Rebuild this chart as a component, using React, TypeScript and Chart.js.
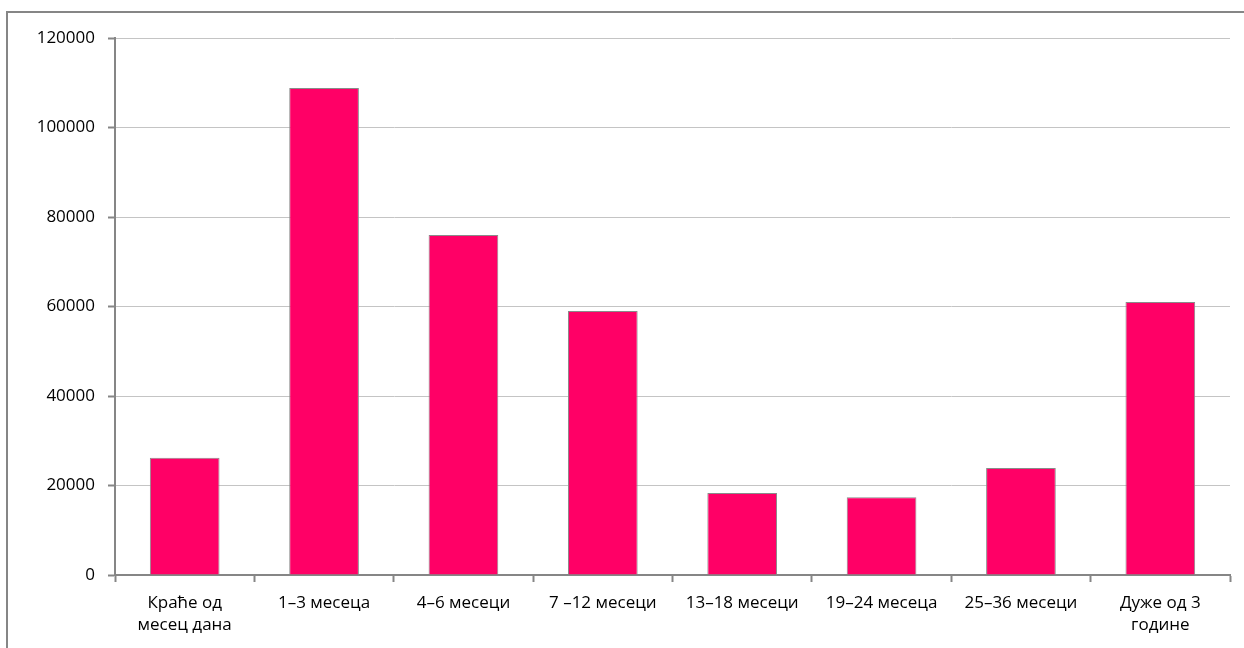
import React, { useEffect, useRef } from "react";
import { Chart, registerables } from "chart.js";

Chart.register(...registerables);

const categories: (string | string[])[] = [
  ["Краће од", "месец дана"],
  "1–3 месеца",
  "4–6 месеци",
  "7 –12 месеци",
  "13–18 месеци",
  "19–24 месеца",
  "25–36 месеци",
  ["Дуже од 3", "године"],
];
const values = [26200, 108800, 76000, 59000, 18300, 17400, 23900, 61000];
const yTicks = [0, 20000, 40000, 60000, 80000, 100000, 120000];

export default function App() {
  const ref = useRef<HTMLCanvasElement>(null);
  useEffect(() => {
    if (!ref.current) return;
    const font = { family: "'Open Sans', 'Noto Sans', sans-serif", size: 17, lineHeight: 1.3 };
    const chart = new Chart(ref.current, {
      type: "bar",
      data: {
        labels: categories,
        datasets: [
          {
            data: values,
            backgroundColor: "#FF0066",
            borderColor: "#8a8a8a",
            borderWidth: 1,
            categoryPercentage: 1,
            barPercentage: 0.5,
          },
        ],
      },
      options: {
        animation: false,
        responsive: false,
        maintainAspectRatio: false,
        layout: { padding: { left: 0, top: 38, right: 14, bottom: 0 } },
        plugins: { legend: { display: false }, tooltip: { enabled: false }, title: { display: false } },
        scales: {
          x: {
            offset: true,
            grid: {
              offset: true,
              drawOnChartArea: false,
              drawTicks: true,
              tickLength: 7,
              tickColor: "#868686",
              tickWidth: 2,
            },
            border: { color: "#868686", width: 2 },
            ticks: { color: "#000", font, padding: 10, maxRotation: 0, autoSkip: false },
            afterFit: (axis: any) => {
              axis.height = 73;
            },
          },
          y: {
            min: 0,
            max: 120000,
            afterBuildTicks: (axis: any) => {
              axis.ticks = yTicks.map((v) => ({ value: v }));
            },
            grid: {
              color: "#c4c4c4",
              lineWidth: 1,
              drawTicks: true,
              tickLength: 7,
              tickColor: "#868686",
              tickWidth: 2,
            },
            border: { color: "#868686", width: 2 },
            ticks: { color: "#000", font, padding: 13, callback: (v: any) => String(v) },
            afterFit: (axis: any) => {
              axis.width = 115;
            },
          },
        },
      },
    });
    return () => chart.destroy();
  }, []);

  return (
    <div style={{ position: "fixed", left: 0, top: 0, width: 1244, height: 648, overflow: "hidden", background: "#fff" }}>
      <div
        style={{
          position: "absolute",
          left: 6,
          top: 11,
          width: 1300,
          height: 700,
          border: "2px solid #868686",
          boxSizing: "border-box",
        }}
      />
      <canvas ref={ref} width={1244} height={648} style={{ position: "absolute", left: 0, top: 0, width: 1244, height: 648 }} />
    </div>
  );
}
